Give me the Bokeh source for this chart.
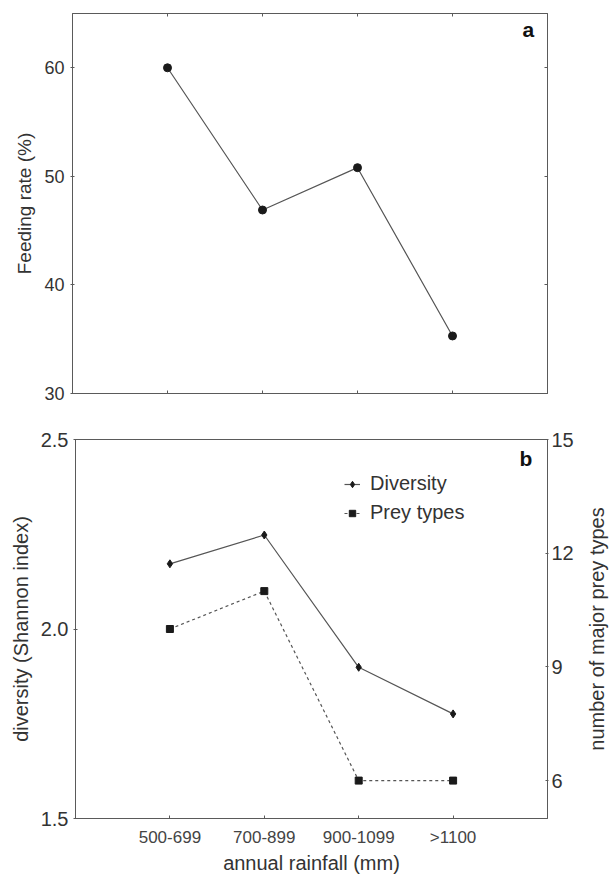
import math
from bokeh.plotting import figure
from bokeh.layouts import column, row
from bokeh.models import (LinearAxis, Range1d, FixedTicker, Label, Legend,
                          LegendItem, PrintfTickFormatter)
from bokeh.embed import file_html
from bokeh.resources import INLINE

# ---------------- data ----------------
rainfall = ["500-699", "700-899", "900-1099", ">1100"]
feeding_rate = [60.0, 46.9, 50.8, 35.3]
diversity = [2.172, 2.248, 1.899, 1.776]
prey_types = [10, 11, 6, 6]

feed_ticks = [30, 40, 50, 60]
div_ticks = [1.5, 2.0, 2.5]
prey_ticks = [6, 9, 12, 15]

xpos = list(range(1, len(rainfall) + 1))
overrides = {i: c for i, c in zip(xpos, rainfall)}

FONT = "Liberation Sans"
TXT = "#333333"
LINE = "#555555"
FRAME = "#5a5a5a"
MK = "#1a1a1a"


def style_axis(ax, fs="18px", labels=True, tin=2, tout=2, standoff=6):
    ax.axis_line_color = FRAME
    ax.major_tick_line_color = FRAME
    ax.minor_tick_line_color = None
    ax.major_tick_in = tin
    ax.major_tick_out = tout
    ax.major_label_text_font = FONT
    ax.axis_label_text_font = FONT
    ax.axis_label_text_color = TXT
    ax.axis_label_text_font_style = "normal"
    if labels:
        ax.major_label_text_color = TXT
        ax.major_label_text_font_size = fs
        ax.major_label_standoff = standoff
    else:
        ax.major_label_text_color = None
        ax.major_label_text_font_size = "1px"
        ax.major_label_standoff = 0


# ---------------- panel a ----------------
pa = figure(frame_width=475, frame_height=380, width=610,
            x_range=Range1d(0, 5), y_range=Range1d(30, 65),
            output_backend="svg", toolbar_location=None,
            min_border_left=72, min_border_right=63,
            min_border_top=13, min_border_bottom=22)
pa.xgrid.visible = False
pa.ygrid.visible = False
pa.outline_line_color = FRAME
pa.background_fill_color = "white"
pa.border_fill_color = "white"

ax_bottom_a = pa.xaxis[0]
ax_bottom_a.ticker = FixedTicker(ticks=xpos)
style_axis(ax_bottom_a, labels=False, tin=3, tout=0)

ax_left_a = pa.yaxis[0]
ax_left_a.ticker = FixedTicker(ticks=feed_ticks)
style_axis(ax_left_a, fs="18px", tin=2, tout=2, standoff=6)
ax_left_a.axis_label = "Feeding rate (%)"
ax_left_a.axis_label_text_font_size = "19px"
ax_left_a.axis_label_standoff = 6

top_a = LinearAxis(ticker=FixedTicker(ticks=xpos))
style_axis(top_a, labels=False, tin=3, tout=0)
pa.add_layout(top_a, "above")
right_a = LinearAxis(ticker=FixedTicker(ticks=feed_ticks))
style_axis(right_a, labels=False, tin=3, tout=0)
pa.add_layout(right_a, "right")

pa.line(xpos, feeding_rate, line_color=LINE, line_width=1.2)
pa.scatter(xpos, feeding_rate, marker="circle", size=8, fill_color=MK,
           line_color=MK)

pa.add_layout(Label(x=4.86, y=63.5, text="a", text_font=FONT,
                    text_font_size="21px", text_font_style="bold",
                    text_color="#111111", text_align="right",
                    text_baseline="middle"))

# ---------------- panel b ----------------
pb = figure(frame_width=472, frame_height=379, width=577,
            x_range=Range1d(0, 5), y_range=Range1d(1.5, 2.5),
            output_backend="svg", toolbar_location=None,
            min_border_left=75, min_border_right=30,
            min_border_top=24, min_border_bottom=55)
pb.xgrid.visible = False
pb.ygrid.visible = False
pb.outline_line_color = FRAME
pb.background_fill_color = "white"
pb.border_fill_color = "white"
pb.extra_y_ranges = {"prey": Range1d(5, 15)}

ax_bottom_b = pb.xaxis[0]
ax_bottom_b.ticker = FixedTicker(ticks=xpos)
ax_bottom_b.major_label_overrides = overrides
style_axis(ax_bottom_b, fs="17px", tin=3, tout=0, standoff=9)
ax_bottom_b.major_label_text_color = "#444444"
ax_bottom_b.axis_label = "annual rainfall (mm)"
ax_bottom_b.axis_label_text_font_size = "20px"
ax_bottom_b.axis_label_standoff = 2

ax_left_b = pb.yaxis[0]
ax_left_b.ticker = FixedTicker(ticks=div_ticks)
ax_left_b.formatter = PrintfTickFormatter(format="%.1f")
style_axis(ax_left_b, fs="20px", tin=2, tout=2, standoff=5)
ax_left_b.axis_label = "diversity (Shannon index)"
ax_left_b.axis_label_text_font_size = "20px"
ax_left_b.axis_label_standoff = 6

right_b = LinearAxis(y_range_name="prey", ticker=FixedTicker(ticks=prey_ticks))
style_axis(right_b, fs="20px", tin=2, tout=1, standoff=3)
pb.add_layout(right_b, "right")

l1 = pb.line(xpos, diversity, line_color=LINE, line_width=1.2)
s1 = pb.scatter(xpos, diversity, marker="diamond", size=8, fill_color=MK,
                line_color=MK)
l2 = pb.line(xpos, prey_types, line_color=LINE, line_width=1.2,
             line_dash="3 3", y_range_name="prey")
s2 = pb.scatter(xpos, prey_types, marker="square", size=7, fill_color=MK,
                line_color=MK, y_range_name="prey")

leg = Legend(items=[LegendItem(label="Diversity", renderers=[l1, s1]),
                    LegendItem(label="Prey types", renderers=[l2, s2])],
             location=(265, 290))
leg.background_fill_alpha = 0
leg.border_line_alpha = 0
leg.label_text_font = FONT
leg.label_text_font_size = "20px"
leg.label_text_color = TXT
leg.glyph_width = 16
leg.glyph_height = 20
leg.label_height = 20
leg.spacing = 6
leg.label_standoff = 10
leg.padding = 4
leg.margin = 0
pb.add_layout(leg)

pb.add_layout(Label(x=4.84, y=2.45, text="b", text_font=FONT,
                    text_font_size="21px", text_font_style="bold",
                    text_color="#111111", text_align="right",
                    text_baseline="middle"))

# narrow strip holding the right-hand axis title (reads bottom-to-top)
pt = figure(frame_width=33, frame_height=379, width=33,
            x_range=Range1d(0, 1), y_range=Range1d(0, 1),
            x_axis_type=None, y_axis_type=None,
            output_backend="svg", toolbar_location=None,
            min_border_left=0, min_border_right=0,
            min_border_top=24, min_border_bottom=55)
pt.xgrid.visible = False
pt.ygrid.visible = False
pt.outline_line_color = None
pt.background_fill_color = "white"
pt.border_fill_color = "white"
pt.add_layout(Label(x=0.58, y=0.5, text="number of major prey types",
                    angle=math.pi / 2, text_font=FONT, text_font_size="20px",
                    text_color=TXT, text_align="center",
                    text_baseline="middle"))

layout = column(pa, row(pb, pt, spacing=0), spacing=0)
open("out.html", "w").write(file_html(layout, INLINE))
